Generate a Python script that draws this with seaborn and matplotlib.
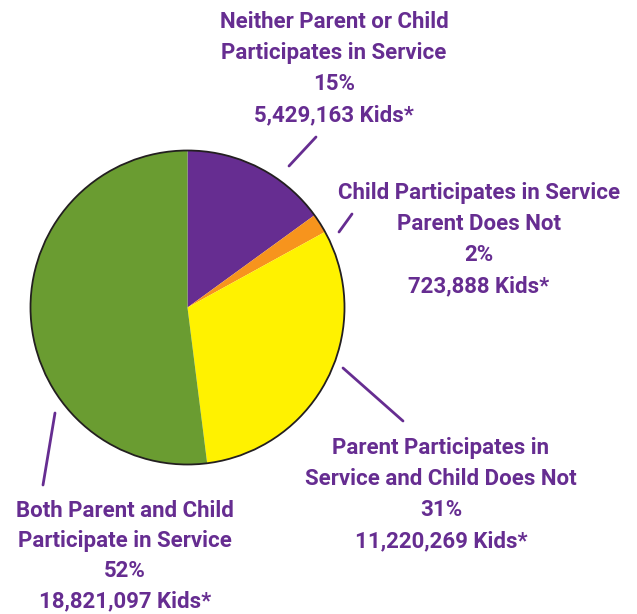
import matplotlib
matplotlib.use("Agg")
import matplotlib.pyplot as plt
from matplotlib.patches import Circle
import seaborn as sns

categories = [
    "Neither Parent or Child\nParticipates in Service",
    "Child Participates in Service\nParent Does Not",
    "Parent Participates in\nService and Child Does Not",
    "Both Parent and Child\nParticipate in Service",
]
kids = [5429163, 723888, 11220269, 18821097]
percents = ["15%", "2%", "31%", "52%"]
colors = ["#662D91", "#F7941D", "#FFF200", "#6A9C31"]
text_color = "#662D91"

sns.set_theme(style="white")
plt.rcParams["font.family"] = ["Roboto", "DejaVu Sans"]

W, H = 637, 614
fig = plt.figure(figsize=(W / 100, H / 100), dpi=100)
ax = fig.add_axes([0, 0, 1, 1])
ax.set_xlim(0, W)
ax.set_ylim(0, H)
ax.set_aspect("equal")
ax.axis("off")

cx, cy, r = 187.5, H - 307.5, 157
ax.pie(kids, colors=colors, startangle=90, counterclock=False,
       center=(cx, cy), radius=r, wedgeprops=dict(linewidth=0))
ax.add_patch(Circle((cx, cy), r, fill=False, edgecolor="#231F20", linewidth=1.3))
ax.set_xlim(0, W)
ax.set_ylim(0, H)

# label centres (pixel coords, first-line y) and line spacing
label_pos = [(334, 22, 31), (479, 193, 31), (441, 448, 31), (125, 511, 30)]
leaders = [((289, 166), (316, 137)), ((339, 232), (352, 214)),
           ((343, 368), (403, 421)), ((55, 413), (43, 485))]

for cat, k, p, (lx, ly, sp), ((x1, y1), (x2, y2)) in zip(categories, kids, percents, label_pos, leaders):
    lines = cat.split("\n") + [p, f"{k:,} Kids*"]
    for i, line in enumerate(lines):
        ax.text(lx, H - (ly + i * sp), line, ha="center", va="center",
                fontsize=16, fontweight="bold", color=text_color)
    ax.plot([x1, x2], [H - y1, H - y2], color=text_color, linewidth=2)

fig.savefig("out.png", dpi=100)
